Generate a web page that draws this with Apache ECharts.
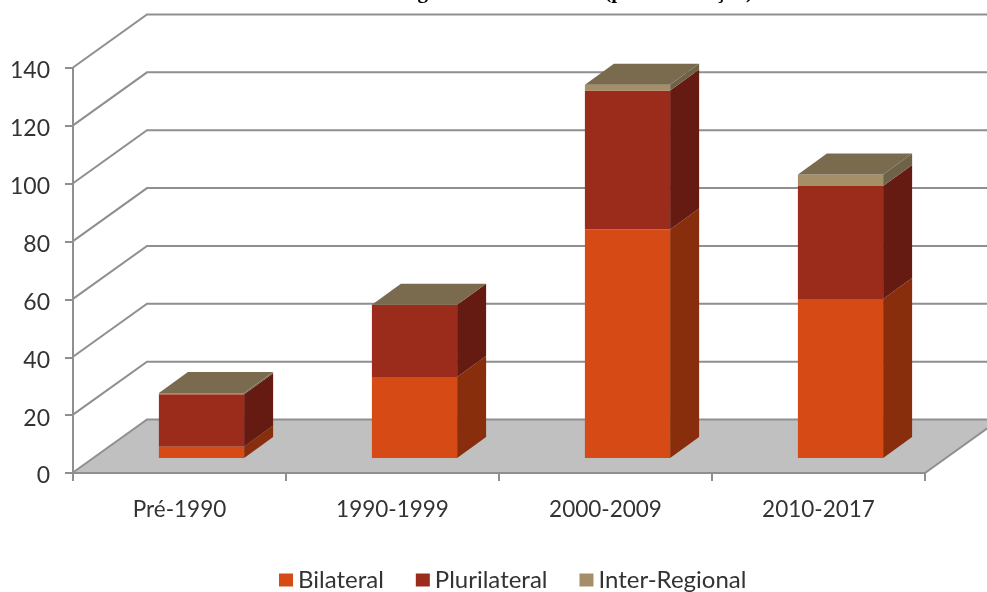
<!DOCTYPE html>
<html><head><meta charset="utf-8">
<style>html,body{margin:0;padding:0;background:#fff;overflow:hidden}#c{width:987px;height:592px}</style>
<script src="https://cdn.jsdelivr.net/npm/echarts@6/dist/echarts.min.js"></script>
</head><body><div id="c"></div>
<script>
const categories = ['Pré-1990','1990-1999','2000-2009','2010-2017'];
const bilateral = [4,28,79,55];
const plurilateral = [18,25,48,39];
const interRegional = [0.5,0,2,4];
const yTicks = [0,20,40,60,80,100,120,140];
const titleText = 'Acordos Regionais de Comércio (por notificação)';

const WALL_DX = 74, WALL_DY = 53;      // depth of the floor
const FRONT_DX = 22, FRONT_DY = 15;    // bar front offset from axis plane
const SIDE_DX = 29, SIDE_DY = 21;      // bar depth
const GRID_COLOR = '#8f8f8f';
const FONT = 'Lato';
const TEXT = '#333333';

const chart = echarts.init(document.getElementById('c'), null, {renderer:'canvas'});

function poly(points, fill){
  return {type:'polygon', shape:{points}, style:{fill, stroke:null}, silent:true};
}
function stackSeries(name, values, below, front, side, withTop){
  return {
    type:'custom', name, coordinateSystem:'cartesian2d', clip:false, z:5,
    itemStyle:{color:front},
    data: values.map((v,i)=>[i, below[i], below[i]+v]),
    renderItem(params, api){
      const i = api.value(0);
      const bw = api.size([1,0])[0]*0.4;
      const cx = api.coord([i,0])[0] + FRONT_DX;
      const y0 = api.coord([i,api.value(1)])[1] - FRONT_DY;
      const y1 = api.coord([i,api.value(2)])[1] - FRONT_DY;
      const l = cx - bw/2, r = cx + bw/2;
      const children = [
        poly([[r,y0],[r+SIDE_DX,y0-SIDE_DY],[r+SIDE_DX,y1-SIDE_DY],[r,y1]], side),
        poly([[l,y0],[r,y0],[r,y1],[l,y1]], front)
      ];
      if(withTop) children.push(poly([[l,y1],[r,y1],[r+SIDE_DX,y1-SIDE_DY],[l+SIDE_DX,y1-SIDE_DY]], '#7a6b4e'));
      return {type:'group', children};
    }
  };
}
const zero = categories.map(()=>0);
const s2 = bilateral.map((v)=>v);
const s3 = bilateral.map((v,i)=>v+plurilateral[i]);

chart.setOption({
  animation:false,
  backgroundColor:'#fff',
  textStyle:{fontFamily:FONT},
  title:{text:titleText, left:308, top:-23, textStyle:{fontFamily:'Liberation Serif', fontWeight:'bold', fontSize:21, color:'#000'}},
  grid:{left:73, right:62, top:68, bottom:119},
  legend:{
    data:['Bilateral','Plurilateral','Inter-Regional'],
    left:274, top:563, itemWidth:14, itemHeight:13, itemGap:32, icon:'rect',
    textStyle:{fontFamily:FONT, fontSize:24, color:TEXT}
  },
  xAxis:{type:'category', data:categories,
    axisLine:{lineStyle:{color:GRID_COLOR, width:2}},
    axisTick:{show:true, length:8, lineStyle:{color:GRID_COLOR, width:2}},
    axisLabel:{fontFamily:FONT, fontSize:22.5, color:TEXT, margin:25}, z:3},
  yAxis:{type:'value', min:0, max:140, interval:20,
    axisLine:{show:true, lineStyle:{color:GRID_COLOR, width:2}},
    axisTick:{show:true, length:8, lineStyle:{color:GRID_COLOR, width:2}},
    axisLabel:{fontFamily:FONT, fontSize:23, color:TEXT, margin:23, verticalAlign:'top', lineHeight:6},
    splitLine:{show:false}, z:3},
  series:[
    {type:'custom', name:'floor', coordinateSystem:'cartesian2d', clip:false, z:1, silent:true,
     data:[[0,0]],
     renderItem(params, api){
       const c = params.coordSys; const y = c.y + c.height;
       return {type:'group', children:[
         poly([[c.x,y],[c.x+c.width,y],[c.x+c.width+WALL_DX,y-WALL_DY],[c.x+WALL_DX,y-WALL_DY]], '#c0c0c0'),
         {type:'line', shape:{x1:c.x+c.width,y1:y,x2:c.x+c.width+WALL_DX,y2:y-WALL_DY},
          style:{stroke:GRID_COLOR,lineWidth:2}}
       ]};
     }},
    {type:'custom', name:'wall', coordinateSystem:'cartesian2d', clip:false, z:2, silent:true,
     data:yTicks.map(v=>[0,v]),
     renderItem(params, api){
       const c = params.coordSys;
       const y = api.coord([0,api.value(1)])[1] - 0.5;
       return {type:'polyline', shape:{points:[[c.x,y],[c.x+WALL_DX,y-WALL_DY],[c.x+c.width+WALL_DX,y-WALL_DY]]},
         style:{stroke:GRID_COLOR, lineWidth:2, fill:null}};
     }},
    stackSeries('Bilateral', bilateral, zero, '#d54a15', '#882e0d', false),
    stackSeries('Plurilateral', plurilateral, s2, '#9b2c1c', '#651a12', false),
    stackSeries('Inter-Regional', interRegional, s3, '#a48f69', '#6e6249', true)
  ]
});
</script></body></html>
